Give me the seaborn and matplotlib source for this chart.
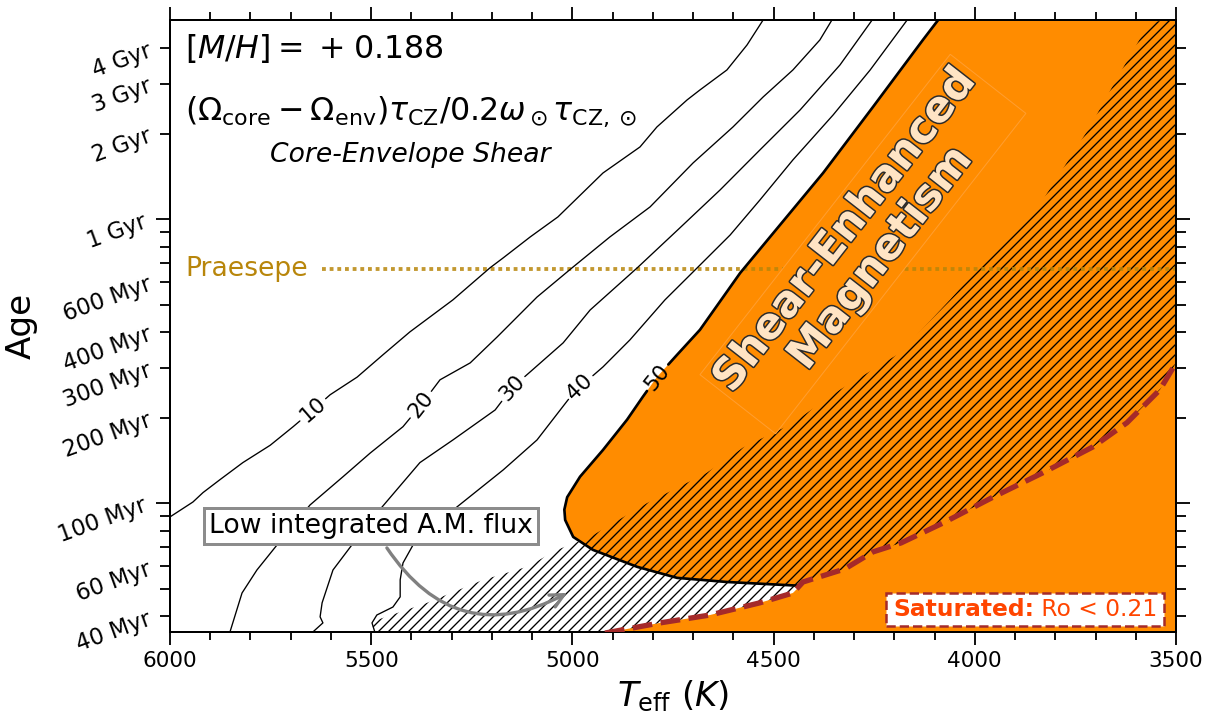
import numpy as np
import matplotlib
matplotlib.use("Agg")
import matplotlib.pyplot as plt
import matplotlib.patheffects as pe
from matplotlib.patches import Rectangle
from matplotlib.transforms import Bbox
from matplotlib.ticker import FixedLocator, FixedFormatter, MultipleLocator
import seaborn as sns

# ---------------- data ----------------
levels = [10, 20, 30, 40, 50]

c10_teff = [6000, 5943, 5918, 5876, 5819, 5751, 5694, 5645, 5602, 5535, 5471, 5404, 5297,
            5205, 5172, 5105, 5036, 4924, 4832, 4790, 4715, 4683, 4616, 4566, 4526]
c10_age = [89.5, 101, 109, 121, 139, 160, 186, 213, 241, 278, 333, 401, 520,
           674, 731, 866, 1019, 1455, 1797, 2113, 2631, 2853, 3355, 4109, 5032]

c20_teff = [5851, 5821, 5784, 5734, 5652, 5570, 5503, 5421, 5376, 5329, 5254, 5187, 5088,
            5001, 4907, 4807, 4700, 4601, 4526, 4452, 4385, 4355]
c20_age = [35.2, 48.3, 58.2, 71.3, 98.6, 124, 150, 186, 222, 272, 312, 385, 532,
           674, 866, 1105, 1579, 2113, 2695, 3355, 4279, 5032]

c30_teff = [5645, 5620, 5627, 5622, 5595, 5548, 5473, 5379, 5297, 5192, 5150, 5105, 5023,
            4956, 4839, 4733, 4633, 4534, 4434, 4335, 4255]
c30_age = [35.2, 37.9, 39.8, 44.6, 58.2, 71.3, 97.0, 139, 167, 213, 255, 290, 367,
           479, 674, 932, 1268, 1754, 2427, 3494, 5032]

c40_teff = [5491, 5498, 5486, 5446, 5428, 5428, 5421, 5396, 5287, 5172, 5088, 5011, 4981,
            4924, 4857, 4770, 4690, 4608, 4534, 4452, 4352, 4260, 4168]
c40_age = [35.2, 37.9, 40.4, 43.1, 46.8, 53.7, 61.6, 71.3, 97.0, 131, 167, 231, 257,
           302, 376, 520, 674, 880, 1169, 1618, 2330, 3355, 5032]

c50_teff = [4091, 4129, 4253, 4377, 4583, 4683, 4740, 4790, 4825, 4864, 4924, 4981, 5013,
            5020, 5018, 4998, 4949, 4839, 4740, 4616, 4434]
c50_age = [5032, 4279, 2486, 1455, 647, 408, 333, 278, 237, 197, 154, 124, 105,
           95, 87.3, 76.1, 68.5, 59.7, 54.6, 52.8, 51.2]

label_idx = [7, 8, 10, 12, 7]

# saturation boundary (Ro < 0.21)
sat_teff = [4919, 4782, 4658, 4534, 4452, 4427, 4323, 4253, 4183, 4079, 3955, 3831,
            3706, 3622, 3540, 3500]
sat_age = [34.9, 37.9, 40.4, 44.6, 48.3, 52.8, 58.7, 67.4, 72.5, 85.2, 105, 128,
           158, 192, 251, 312]

# upper edge of the low integrated A.M. flux (hatched) region
hatch_teff = [5491, 5498, 5486, 5361, 5222, 5113, 5038, 4956, 4815, 4666, 4576, 4459,
              4335, 4186, 4062, 3937, 3831, 3714, 3639, 3565, 3500]
hatch_age = [35.2, 37.3, 38.8, 44.6, 53.7, 59.7, 68.5, 76.1, 100, 128, 157, 189,
             251, 338, 520, 825, 1169, 2113, 3274, 4953, 5032]

praesepe_age = 670
praesepe_teff_range = [5622, 3500]

teff_lim = [6000, 3500]
age_lim = [35.2, 5030]

ytick_major = [100, 1000]
ytick_major_labels = ["100 Myr", "1 Gyr"]
ytick_minor = [40, 50, 60, 70, 80, 90, 200, 300, 400, 500, 600, 700, 800, 900, 2000, 3000, 4000]
ytick_minor_labels = ["40 Myr", "", "60 Myr", "", "", "", "200 Myr", "300 Myr", "400 Myr", "",
                      "600 Myr", "", "", "", "2 Gyr", "3 Gyr", "4 Gyr"]

# ---------------- style ----------------
sns.set_style("ticks")
plt.rcParams["font.family"] = ["DejaVu Sans"]
plt.rcParams["mathtext.fontset"] = "dejavusans"
plt.rcParams["hatch.linewidth"] = 0.8
plt.rcParams["axes.linewidth"] = 1.2
for k in ["axes.edgecolor", "text.color", "xtick.color", "ytick.color", "axes.labelcolor"]:
    plt.rcParams[k] = "black"

ORANGE = "#FF8C00"
BROWN = "#A52A2A"

DPI = 120
fig = plt.figure(figsize=(1213 / DPI, 720 / DPI), dpi=DPI)
ax = fig.add_axes([170 / 1213, 88 / 720, 1006 / 1213, 612 / 720])
ax.set_yscale("log")
ax.set_xlim(*teff_lim)
ax.set_ylim(*age_lim)

# ---------------- filled regions ----------------
lo_ext, hi_ext = age_lim[0] * 0.95, age_lim[1] * 1.05
x_edge = teff_lim[1] - 20
end_t = c50_teff[-1]
sat_left = [(t, a) for t, a in zip(sat_teff, sat_age) if t > end_t][::-1]
orange_x = ([c50_teff[0]] + c50_teff + [p[0] for p in sat_left] + [sat_left[-1][0], x_edge, x_edge])
orange_y = ([hi_ext] + c50_age + [p[1] for p in sat_left] + [lo_ext, lo_ext, hi_ext])
ax.fill(orange_x, orange_y, color=ORANGE, lw=0, zorder=1)

hx = [hatch_teff[0]] + hatch_teff + [x_edge] + sat_teff[::-1] + [sat_teff[0]]
hy = [lo_ext] + hatch_age + [hi_ext] + sat_age[::-1] + [lo_ext]
ax.fill(hx, hy, facecolor="none", edgecolor="black", hatch="////", lw=0, zorder=2)

# ---------------- contour lines ----------------
def split_at_label(teff, age, idx, gap):
    pts = ax.transData.transform(np.column_stack([teff, age]))
    seg = np.diff(pts, axis=0)
    s = np.concatenate([[0.0], np.cumsum(np.hypot(seg[:, 0], seg[:, 1]))])
    s0 = s[idx]
    def at(sv):
        return np.array([np.interp(sv, s, pts[:, 0]), np.interp(sv, s, pts[:, 1])])
    a, b = s0 - gap, s0 + gap
    left = np.vstack([pts[s < a], at(a)])
    right = np.vstack([at(b), pts[s > b]])
    pa, pb = at(a), at(b)
    ang = np.degrees(np.arctan2(pb[1] - pa[1], pb[0] - pa[0]))
    if ang > 90:
        ang -= 180
    if ang < -90:
        ang += 180
    inv = ax.transData.inverted()
    return inv.transform(left), inv.transform(right), ang, inv.transform(at(s0))

contours = [(c10_teff, c10_age), (c20_teff, c20_age), (c30_teff, c30_age),
            (c40_teff, c40_age), (c50_teff, c50_age)]
for lev, (t, a), li in zip(levels, contours, label_idx):
    lw = 1.6 if lev == 50 else 0.8
    left, right, ang, c = split_at_label(t, a, li, 17)
    for part in (left, right):
        sns.lineplot(x=part[:, 0], y=part[:, 1], sort=False, estimator=None, color="black",
                     lw=lw, ax=ax, legend=False, zorder=3)
    ax.text(c[0], c[1], str(lev), rotation=ang, rotation_mode="anchor", ha="center",
            va="center", fontsize=13, zorder=3)

# saturation line
sns.lineplot(x=sat_teff, y=sat_age, sort=False, estimator=None, color=BROWN, lw=3.2,
             linestyle="--", ax=ax, legend=False, zorder=4)

# Praesepe
sns.lineplot(x=praesepe_teff_range, y=[praesepe_age] * 2, sort=False, estimator=None,
             color="#B8860B", lw=2.3, linestyle=(0, (1, 1)), alpha=0.85, ax=ax,
             legend=False, zorder=2.5)
ax.text(5963, praesepe_age, "Praesepe", color="#B8860B", fontsize=16, ha="left",
        va="center", zorder=3)

# ---------------- annotations ----------------
ax.text(0.015, 0.954, r"$[M/H] =\;{+}\;0.188$", transform=ax.transAxes, fontsize=19,
        ha="left", va="center")
ax.text(0.015, 0.85,
        r"$(\Omega_{\rm core}-\Omega_{\rm env})\tau_{\rm CZ}/0.2\omega_\odot\tau_{\rm CZ,\odot}$",
        transform=ax.transAxes, fontsize=19, ha="left", va="center")
ax.text(0.2386, 0.779, "Core-Envelope Shear", style="italic", transform=ax.transAxes,
        fontsize=16, ha="center", va="center")

ax.text(5500, 83.2, "Low integrated A.M. flux", fontsize=16, ha="center", va="center",
        zorder=5, bbox=dict(boxstyle="square,pad=0.2", fc="white", ec="0.55", lw=1.8))
ax.annotate("", xy=(5013, 48.3), xytext=(5461, 69.6), zorder=5,
            arrowprops=dict(arrowstyle="->,head_length=0.8,head_width=0.4", color="0.5",
                            lw=2, connectionstyle="arc3,rad=0.45", shrinkA=0, shrinkB=0))

ax.text(4278, 818, "Shear-Enhanced\nMagnetism", rotation=52, rotation_mode="anchor",
        ha="center", va="center", multialignment="center", fontsize=26,
        fontweight="bold", color="#FFE4C4", linespacing=1.1, zorder=6,
        path_effects=[pe.withStroke(linewidth=1.8, foreground="#2b2b2b")],
        bbox=dict(boxstyle="square,pad=0.1", fc=ORANGE, ec="#FF9E30", lw=0.6))

# Saturated label: bold part + regular part inside one dashed box
t1 = ax.text(4203, 42.1, "Saturated:", color="#FF4500", fontsize=14, fontweight="bold",
             ha="left", va="center", zorder=8)
t2 = ax.annotate(" Ro < 0.21", xy=(1, 0), xycoords=t1, ha="left", va="bottom",
                 color="#FF4500", fontsize=14, zorder=8)
fig.canvas.draw()
bb = Bbox.union([t1.get_window_extent(), t2.get_window_extent()])
padx, pady = 7, 5
inv_ax = ax.transAxes.inverted()
(x0, y0), (x1, y1) = inv_ax.transform([[bb.x0 - padx, bb.y0 - pady], [bb.x1 + padx, bb.y1 + pady]])
ax.add_patch(Rectangle((x0, y0), x1 - x0, y1 - y0, transform=ax.transAxes, fc="white",
                       ec=BROWN, lw=1.5, ls="--", zorder=7))

# ---------------- axes ----------------
ax.xaxis.set_major_locator(MultipleLocator(500))
ax.xaxis.set_minor_locator(MultipleLocator(100))
ax.yaxis.set_major_locator(FixedLocator(ytick_major))
ax.yaxis.set_major_formatter(FixedFormatter(ytick_major_labels))
ax.yaxis.set_minor_locator(FixedLocator(ytick_minor))
ax.yaxis.set_minor_formatter(FixedFormatter(ytick_minor_labels))

ax.tick_params(which="both", direction="out", top=True, right=True, width=1.1)
ax.tick_params(axis="x", which="major", length=8, labelsize=13)
ax.tick_params(axis="x", which="minor", length=5)
ax.tick_params(axis="y", which="major", length=8.5, labelsize=13.5, labelrotation=20)
ax.tick_params(axis="y", which="minor", length=6, labelsize=13.5, labelrotation=20)

ax.set_xlabel(r"$T_{\rm eff}$ $(K)$", fontsize=20.5)
ax.set_ylabel("Age", fontsize=20.5)
ax.xaxis.set_label_coords(0.5, -0.075)
ax.yaxis.set_label_coords(-0.131, 0.5)

fig.savefig("out.png", dpi=DPI)
